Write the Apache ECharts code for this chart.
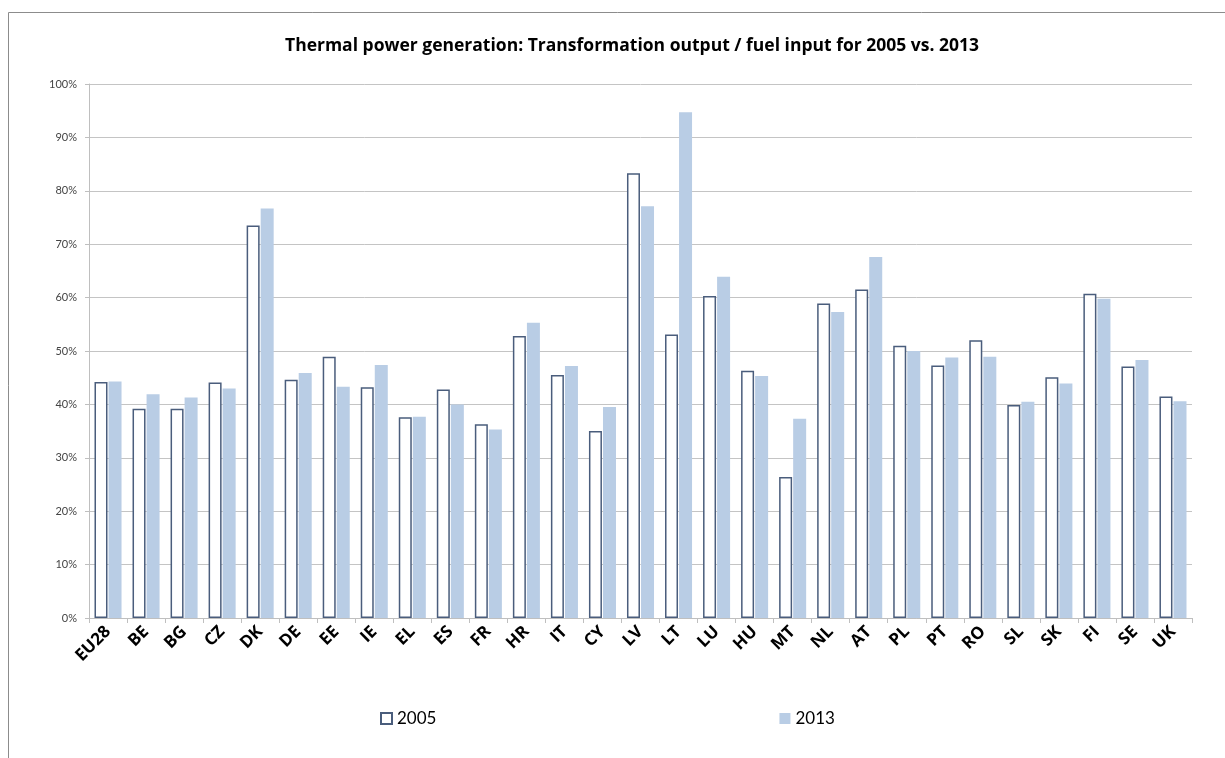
<!DOCTYPE html>
<html>
<head>
<meta charset="utf-8">
<script src="https://cdn.jsdelivr.net/npm/echarts@6/dist/echarts.min.js"></script>
<style>
  html, body { margin: 0; padding: 0; background: #fff; }
  #chart { width: 1225px; height: 758px; }
</style>
</head>
<body>
<div id="chart"></div>
<script>
// country codes along the x axis
const countries = ['EU28', 'BE', 'BG', 'CZ', 'DK', 'DE', 'EE', 'IE', 'EL', 'ES', 'FR', 'HR', 'IT', 'CY',
    'LV', 'LT', 'LU', 'HU', 'MT', 'NL', 'AT', 'PL', 'PT', 'RO', 'SL', 'SK', 'FI', 'SE', 'UK'];

// transformation output / fuel input, in %
const values2005 = [44.2, 39.2, 39.2, 44.1, 73.5, 44.6, 48.9, 43.2, 37.6, 42.8, 36.3, 52.8, 45.5, 35.0,
    83.3, 53.1, 60.3, 46.3, 26.4, 58.9, 61.5, 51.0, 47.3, 52.0, 39.9, 45.1, 60.7, 47.1, 41.5];
const values2013 = [44.3, 41.9, 41.3, 43.0, 76.7, 45.9, 43.3, 47.4, 37.7, 40.0, 35.3, 55.3, 47.2, 39.5,
    77.1, 94.7, 63.9, 45.3, 37.3, 57.3, 67.6, 50.0, 48.8, 48.9, 40.5, 43.9, 59.8, 48.3, 40.6];

const myChart = echarts.init(document.getElementById('chart'));

const option = {
    animation: false,
    textStyle: { fontFamily: 'Lato, "Open Sans", sans-serif' },
    title: {
        text: 'Thermal power generation: Transformation output / fuel input for 2005 vs. 2013',
        left: 280,
        top: 32,
        textStyle: { fontSize: 17.5, fontWeight: 'bold', color: '#000', fontFamily: '"Open Sans", Lato, sans-serif' }
    },
    graphic: [{
        type: 'rect',
        shape: { x: 8.5, y: 12.5, width: 1240, height: 800 },
        style: { fill: 'none', stroke: '#8c8c8c', lineWidth: 1 },
        silent: true
    }],
    legend: {
        left: 375,
        top: 705,
        itemGap: 343,
        itemWidth: 11,
        itemHeight: 11,
        textStyle: { fontSize: 17, color: '#000' },
        data: [
            { name: '2005', icon: 'rect' },
            { name: '2013', icon: 'rect' }
        ]
    },
    grid: { left: 89, right: 33, top: 84, bottom: 140 },
    xAxis: {
        type: 'category',
        data: countries,
        axisLine: { lineStyle: { color: '#bfbfbf', width: 1 } },
        axisTick: { show: true, length: 5, lineStyle: { color: '#bfbfbf' } },
        axisLabel: {
            interval: 0,
            rotate: 45,
            margin: 11,
            fontSize: 17,
            fontWeight: 'bold',
            color: '#000',
            fontFamily: '"Open Sans", Lato, sans-serif'
        }
    },
    yAxis: {
        type: 'value',
        min: 0,
        max: 100,
        interval: 10,
        axisLine: { show: true, lineStyle: { color: '#bfbfbf' } },
        axisTick: { show: true, length: 4, lineStyle: { color: '#bfbfbf' } },
        axisLabel: { formatter: '{value}%', fontSize: 11, color: '#444', margin: 12 },
        splitLine: { lineStyle: { color: '#c4c4c4', width: 1 } }
    },
    series: [
        {
            name: '2005',
            type: 'bar',
            data: values2005,
            barWidth: 13,
            barGap: '8%',
            itemStyle: { color: '#ffffff', borderColor: '#4a5d7c', borderWidth: 1.5 }
        },
        {
            name: '2013',
            type: 'bar',
            data: values2013,
            barWidth: 13,
            itemStyle: { color: '#b9cde5' }
        }
    ]
};

myChart.setOption(option);
</script>
</body>
</html>
